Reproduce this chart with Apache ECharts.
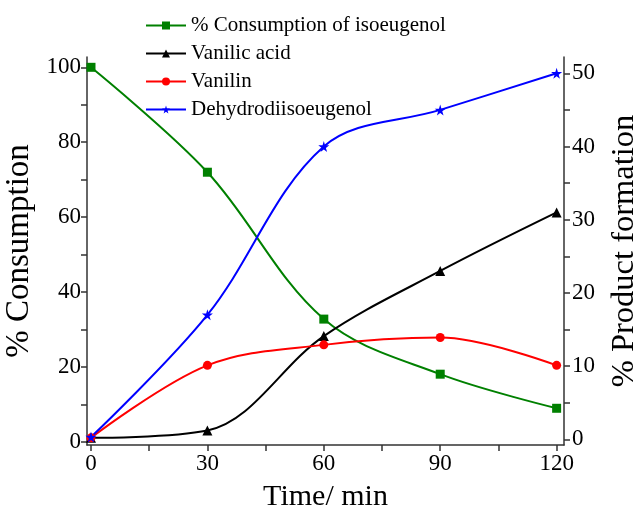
<!DOCTYPE html>
<html>
<head>
<meta charset="utf-8">
<script src="https://cdn.jsdelivr.net/npm/echarts@6/dist/echarts.min.js"></script>
<style>
html,body{margin:0;padding:0;background:#fff;}
#c{width:640px;height:512px;}
</style>
</head>
<body>
<div id="c"></div>
<script>
var times = [0, 30, 60, 90, 120];
var consumptionIsoeugenol = [100, 72, 32.8, 18.1, 9.0];
var vanilicAcid = [0.2, 1.2, 14.1, 23.0, 31.0];
var vanilin = [0.2, 10.1, 12.9, 13.9, 10.1];
var dehydrodiisoeugenol = [0.3, 17.0, 40.0, 45.0, 50.0];
var xLabels = [0, 30, 60, 90, 120];
var xTicks = [0, 15, 30, 45, 60, 75, 90, 105, 120];
var leftLabels = [0, 20, 40, 60, 80, 100];
var leftTicks = [0, 10, 20, 30, 40, 50, 60, 70, 80, 90, 100];
var rightLabels = [0, 10, 20, 30, 40, 50];
var rightTicks = [0, 5, 10, 15, 20, 25, 30, 35, 40, 45, 50];

function pairs(ys){ return times.map(function(t,i){ return [t, ys[i]]; }); }

var FONT = "'Liberation Serif','Times New Roman',serif";
var STAR = 'path://M50,0 L61,35 L98,35 L68,57 L79,91 L50,70 L21,91 L32,57 L2,35 L39,35 Z';
var axisLineStyle = {color:'#333', width:1.5};
var SMOOTH = 0.35;

var chart = echarts.init(document.getElementById('c'), null, {renderer:'canvas'});
chart.setOption({
  animation:false,
  textStyle:{fontFamily:FONT},
  grid:{left:87, right:76, top:57, bottom:67, containLabel:false, outerBoundsMode:'none'},
  legend:{
    orient:'vertical', left:140, top:10,
    itemWidth:40, itemHeight:10, itemGap:7,
    textStyle:{fontFamily:FONT, fontSize:21, color:'#000'},
    data:['% Consumption of isoeugenol','Vanilic acid','Vanilin','Dehydrodiisoeugenol']
  },
  xAxis:{
    type:'value', min:-1.03, max:121.9,
    name:'Time/ min', nameLocation:'middle', nameGap:37,
    nameTextStyle:{fontFamily:FONT, fontSize:30, color:'#000'},
    axisLine:{show:true, onZero:false, lineStyle:axisLineStyle},
    axisTick:{show:true, inside:false, length:6, lineStyle:axisLineStyle, customValues:xTicks},
    axisLabel:{fontFamily:FONT, fontSize:23, color:'#000', margin:7, customValues:xLabels},
    splitLine:{show:false}
  },
  yAxis:[{
    type:'value', position:'left', min:-0.8, max:102.75,
    name:'% Consumption', nameLocation:'middle', nameGap:48,
    nameTextStyle:{fontFamily:FONT, fontSize:33, color:'#000'},
    axisLine:{show:true, onZero:false, lineStyle:axisLineStyle},
    axisTick:{show:true, inside:false, length:6, lineStyle:axisLineStyle, customValues:leftTicks},
    axisLabel:{fontFamily:FONT, fontSize:23, color:'#000', margin:6, customValues:leftLabels},
    splitLine:{show:false}
  },{
    type:'value', position:'right', min:-0.78, max:52.23,
    name:'% Product formation', nameLocation:'middle', nameGap:44,
    nameTextStyle:{fontFamily:FONT, fontSize:32.5, color:'#000'},
    axisLine:{show:true, onZero:false, lineStyle:axisLineStyle},
    axisTick:{show:true, inside:false, length:6, lineStyle:axisLineStyle, customValues:rightTicks},
    axisLabel:{fontFamily:FONT, fontSize:23, color:'#000', margin:8, customValues:rightLabels},
    splitLine:{show:false}
  }],
  series:[{
    name:'% Consumption of isoeugenol', type:'line', yAxisIndex:0,
    data:pairs(consumptionIsoeugenol), smooth:SMOOTH,
    symbol:'rect', symbolSize:9,
    itemStyle:{color:'#008000'}, lineStyle:{color:'#008000', width:2}
  },{
    name:'Vanilic acid', type:'line', yAxisIndex:1,
    data:pairs(vanilicAcid), smooth:SMOOTH,
    symbol:'triangle', symbolSize:10,
    itemStyle:{color:'#000'}, lineStyle:{color:'#000', width:2}
  },{
    name:'Vanilin', type:'line', yAxisIndex:1,
    data:pairs(vanilin), smooth:SMOOTH,
    symbol:'circle', symbolSize:9,
    itemStyle:{color:'#ff0000'}, lineStyle:{color:'#ff0000', width:2}
  },{
    name:'Dehydrodiisoeugenol', type:'line', yAxisIndex:1,
    data:pairs(dehydrodiisoeugenol), smooth:SMOOTH,
    symbol:STAR, symbolSize:11,
    itemStyle:{color:'#0000ff'}, lineStyle:{color:'#0000ff', width:2}
  }]
});
</script>
</body>
</html>
